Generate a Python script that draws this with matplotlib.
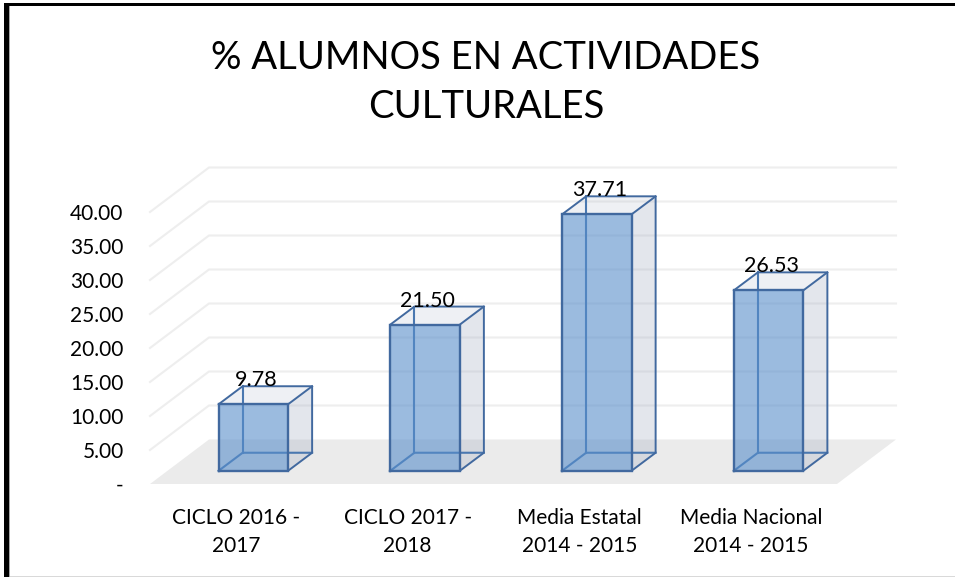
import matplotlib.pyplot as plt
import numpy as np
from matplotlib.patches import Rectangle

plt.rcParams["font.family"] = ["Lato", "DejaVu Sans"]

W, H = 955, 577

categories = [
    "CICLO 2016 -\n2017",
    "CICLO 2017 -\n2018",
    "Media Estatal\n2014 - 2015",
    "Media Nacional\n2014 - 2015",
]
values = [9.78, 21.50, 37.71, 26.53]
value_labels = ["9.78", "21.50", "37.71", "26.53"]
y_ticks = [0, 5, 10, 15, 20, 25, 30, 35, 40]
y_tick_labels = ["-", "5.00", "10.00", "15.00", "20.00", "25.00", "30.00", "35.00", "40.00"]

EDGE = "#41699f"
INNER = "#4a78b0"
BLUE = "#588ecb"
SIDE = "#a5afc3"
GRID = "#eeeeee"
FLOOR = "#ebebeb"

fig = plt.figure(figsize=(W / 100, H / 100), dpi=100, facecolor="white")

# axes: front floor edge runs 150..837 px, value 0 at y=484, 40 at y=212
ax = fig.add_axes([150 / W, (H - 484) / H, 687 / W, 272 / H])
ax.set_xlim(-0.5, 3.5)
ax.set_ylim(0, 40)
ax.set_frame_on(False)

# oblique offset of the back wall, and of a bar's own depth, in data units
wall_dx = 59 / 171.75
wall_dy = 44.5 / 6.8
bar_dx = 24 / 171.75
bar_dy = 18 / 6.8
bar_w = 69.5 / 171.75
off_x = (wall_dx - bar_dx) / 2
off_y = (wall_dy - bar_dy) / 2

# floor
ax.fill(
    [-0.5, 3.5, 3.5 + wall_dx, -0.5 + wall_dx],
    [0, 0, wall_dy, wall_dy],
    color=FLOOR,
    lw=0,
    clip_on=False,
    zorder=1,
)

# gridlines, side wall then back wall
for t in y_ticks[1:]:
    ax.plot(
        [-0.5, -0.5 + wall_dx, 3.5 + wall_dx],
        [t, t + wall_dy, t + wall_dy],
        color=GRID,
        lw=1.5,
        clip_on=False,
        zorder=1,
        solid_joinstyle="miter",
    )

# bars
for i, v in enumerate(values):
    x0 = i - bar_w / 2 + off_x
    x1 = x0 + bar_w
    y0 = off_y
    y1 = off_y + v

    # right side and top faces
    ax.fill(
        [x1, x1 + bar_dx, x1 + bar_dx, x1],
        [y0, y0 + bar_dy, y1 + bar_dy, y1],
        color=SIDE,
        alpha=0.3,
        lw=0,
        clip_on=False,
        zorder=2,
    )
    ax.fill(
        [x0, x1, x1 + bar_dx, x0 + bar_dx],
        [y1, y1, y1 + bar_dy, y1 + bar_dy],
        color=SIDE,
        alpha=0.18,
        lw=0,
        clip_on=False,
        zorder=2,
    )

    # hidden edges of the box, seen through the front
    ax.plot(
        [x0 + bar_dx, x0 + bar_dx],
        [y0 + bar_dy, y1 + bar_dy],
        color=INNER,
        lw=1.5,
        clip_on=False,
        zorder=3,
    )
    ax.plot(
        [x0, x0 + bar_dx, x1 + bar_dx],
        [y0, y0 + bar_dy, y0 + bar_dy],
        color=INNER,
        lw=1.5,
        clip_on=False,
        zorder=3,
    )

    # front face
    ax.bar(
        x0,
        v,
        width=bar_w,
        bottom=y0,
        align="edge",
        color=BLUE,
        alpha=0.6,
        lw=0,
        clip_on=False,
        zorder=4,
    )
    ax.plot(
        [x0, x0, x1, x1, x0],
        [y0, y1, y1, y0, y0],
        color=EDGE,
        lw=1.7,
        clip_on=False,
        zorder=5,
        solid_joinstyle="miter",
    )

    # outer edges of top and side
    ax.plot(
        [x0, x0 + bar_dx, x1 + bar_dx, x1 + bar_dx, x1],
        [y1, y1 + bar_dy, y1 + bar_dy, y0 + bar_dy, y0],
        color=EDGE,
        lw=1.4,
        clip_on=False,
        zorder=5,
    )
    ax.plot(
        [x1, x1 + bar_dx],
        [y1, y1 + bar_dy],
        color=EDGE,
        lw=1.4,
        clip_on=False,
        zorder=5,
    )

    ax.text(
        i + off_x + 2.5 / 171.75,
        y1 + bar_dy,
        value_labels[i],
        ha="center",
        va="baseline",
        fontsize=15.5,
        color="black",
        zorder=6,
    )

ax.set_yticks(y_ticks, y_tick_labels)
ax.set_xticks(np.arange(len(categories)), categories)
ax.tick_params(axis="y", length=0, pad=19, labelsize=15)
ax.tick_params(axis="x", length=0, pad=17, labelsize=15)
for lab in ax.get_xticklabels():
    lab.set_linespacing(1.55)

# title
fig.text(
    486 / W,
    1 - 82.5 / H,
    "% ALUMNOS EN ACTIVIDADES\nCULTURALES",
    ha="center",
    va="center",
    fontsize=27.5,
    linespacing=1.42,
    color="black",
)

# chart frame
fig.add_artist(Rectangle((4 / W, 0), 4.7 / W, 1 - 3 / H, color="black", lw=0))
fig.add_artist(Rectangle((4 / W, 1 - 6.3 / H), 1 - 4 / W, 3.3 / H, color="black", lw=0))
fig.add_artist(Rectangle((8.7 / W, 0), 1 - 8.7 / W, 1.5 / H, color="#d9d9d9", lw=0))
fig.add_artist(Rectangle((8.7 / W, 0), 1 / W, 1 - 6.3 / H, color="#a6a6a6", lw=0))

fig.savefig("out.png", dpi=100)
